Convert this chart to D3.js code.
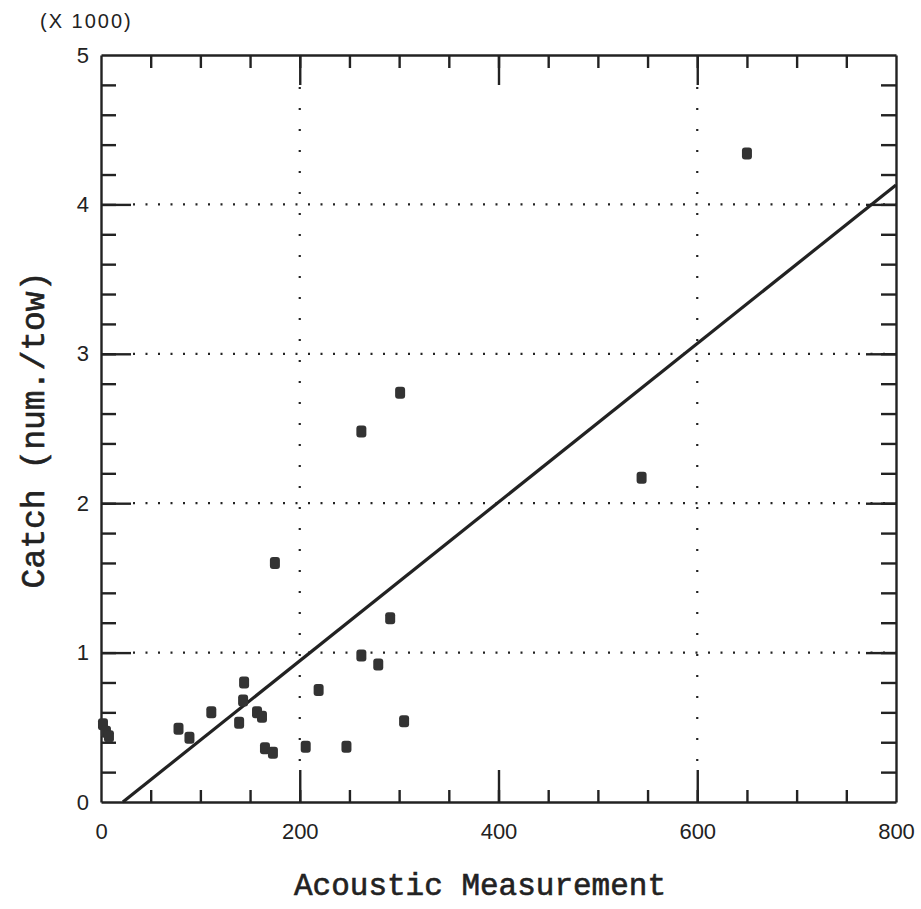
<!DOCTYPE html>
<html>
<head>
<meta charset="utf-8">
<script src="https://cdn.jsdelivr.net/npm/d3@7"></script>
<style>
  body { margin: 0; background: #fff; }
  .tick text { fill: #222; }
</style>
</head>
<body>
<svg id="chart_svg"></svg>
<script>
var viewWidth = 921;
var viewHeight = 909;

// acoustic measurement vs catch (x 1000 per tow)
var acoustic = [650, 544, 301, 262, 175, 291, 262, 279, 144, 219, 143, 111, 157, 162, 139, 78, 89, 305, 165, 173, 206, 247, 2, 5, 8];
var catchK   = [4.34, 2.17, 2.74, 2.48, 1.60, 1.23, 0.98, 0.92, 0.80, 0.75, 0.68, 0.60, 0.60, 0.57, 0.53, 0.49, 0.43, 0.54, 0.36, 0.33, 0.37, 0.37, 0.52, 0.47, 0.44];

// fitted regression line
var fitX = [22, 800];
var fitY = [0, 4.13];

var xTicks = [0, 200, 400, 600, 800];
var yTicks = [0, 1, 2, 3, 4, 5];
var xMinor = d3.range(50, 800, 50);
var xMajor = [200, 400, 600];
var yMinor = d3.range(1, 25).map(function(d) { return d / 5; });
var yMajor = [1, 2, 3, 4];
var xGrid = [200, 600];
var yGrid = [1, 2, 3, 4];

var ink = "#222";

var svg = d3.select("#chart_svg")
    .attr("width", viewWidth)
    .attr("height", viewHeight);

svg.append("rect")
    .attr("width", viewWidth)
    .attr("height", viewHeight)
    .attr("fill", "#fff");

var x = d3.scaleLinear().domain([0, 800]).range([101, 896]);
var y = d3.scaleLinear().domain([0, 5]).range([802, 55]);

// dotted grid
svg.selectAll(".hgrid")
    .data(yGrid)
  .enter().append("line")
    .attr("class", "hgrid")
    .attr("x1", x(0) + 32)
    .attr("x2", x(800))
    .attr("y1", function(d) { return y(d); })
    .attr("y2", function(d) { return y(d); })
    .attr("stroke", ink)
    .attr("stroke-width", 2.2)
    .attr("stroke-dasharray", "2,10.5");

svg.selectAll(".vgrid")
    .data(xGrid)
  .enter().append("line")
    .attr("class", "vgrid")
    .attr("x1", function(d) { return x(d); })
    .attr("x2", function(d) { return x(d); })
    .attr("y1", y(5) + 32)
    .attr("y2", y(0) - 34)
    .attr("stroke", ink)
    .attr("stroke-width", 2.2)
    .attr("stroke-dasharray", "2,19");

function styleAxis(g) {
  g.selectAll("path").attr("stroke", ink).attr("stroke-width", 2.4);
  g.selectAll("line").attr("stroke", ink).attr("stroke-width", 2.4);
}

// ticks pointing inward on all four sides
svg.append("g")
    .attr("transform", "translate(0," + y(0) + ")")
    .call(d3.axisBottom(x).tickValues(xMinor).tickSize(-12).tickSizeOuter(0).tickFormat(""))
    .call(styleAxis);
svg.append("g")
    .attr("transform", "translate(0," + y(0) + ")")
    .call(d3.axisBottom(x).tickValues(xMajor).tickSize(-32).tickFormat(""))
    .call(styleAxis)
    .select(".domain").remove();

svg.append("g")
    .attr("transform", "translate(0," + y(5) + ")")
    .call(d3.axisTop(x).tickValues(xMinor).tickSize(-13).tickSizeOuter(0).tickFormat(""))
    .call(styleAxis);
svg.append("g")
    .attr("transform", "translate(0," + y(5) + ")")
    .call(d3.axisTop(x).tickValues(xMajor).tickSize(-30).tickFormat(""))
    .call(styleAxis)
    .select(".domain").remove();

svg.append("g")
    .attr("transform", "translate(" + x(0) + ",0)")
    .call(d3.axisLeft(y).tickValues(yMinor).tickSize(-15).tickSizeOuter(0).tickFormat(""))
    .call(styleAxis);
svg.append("g")
    .attr("transform", "translate(" + x(0) + ",0)")
    .call(d3.axisLeft(y).tickValues(yMajor).tickSize(-30).tickFormat(""))
    .call(styleAxis)
    .select(".domain").remove();

svg.append("g")
    .attr("transform", "translate(" + x(800) + ",0)")
    .call(d3.axisRight(y).tickValues(yMinor).tickSize(-15).tickSizeOuter(0).tickFormat(""))
    .call(styleAxis);
svg.append("g")
    .attr("transform", "translate(" + x(800) + ",0)")
    .call(d3.axisRight(y).tickValues(yMajor).tickSize(-30).tickFormat(""))
    .call(styleAxis)
    .select(".domain").remove();

// tick labels
var xLab = svg.append("g")
    .attr("transform", "translate(0," + y(0) + ")")
    .call(d3.axisBottom(x).tickValues(xTicks).tickSize(0).tickPadding(21).tickFormat(d3.format("d")));
xLab.select(".domain").remove();
xLab.selectAll("text")
    .style("font-family", "'Liberation Sans Narrow', 'Liberation Sans', sans-serif")
    .style("font-size", "22px");

var yLab = svg.append("g")
    .attr("transform", "translate(" + x(0) + ",0)")
    .call(d3.axisLeft(y).tickValues(yTicks).tickSize(0).tickPadding(12).tickFormat(d3.format("d")));
yLab.select(".domain").remove();
yLab.selectAll("text")
    .style("font-family", "'Liberation Sans Narrow', 'Liberation Sans', sans-serif")
    .style("font-size", "22px");

svg.append("text")
    .attr("x", 40)
    .attr("y", 28)
    .style("font-family", "'Liberation Sans Narrow', 'Liberation Sans', sans-serif")
    .style("font-size", "20px")
    .style("letter-spacing", "2px")
    .attr("fill", ink)
    .text("(X 1000)");

// regression line
var line = d3.line()
    .x(function(d) { return x(d[0]); })
    .y(function(d) { return y(d[1]); });

svg.append("path")
    .datum(d3.zip(fitX, fitY))
    .attr("d", line)
    .attr("fill", "none")
    .attr("stroke", ink)
    .attr("stroke-width", 3.2);

// data points
svg.selectAll(".dot")
    .data(d3.zip(acoustic, catchK))
  .enter().append("rect")
    .attr("class", "dot")
    .attr("x", function(d) { return x(d[0]) - 5; })
    .attr("y", function(d) { return y(d[1]) - 6; })
    .attr("width", 10)
    .attr("height", 12)
    .attr("rx", 3)
    .attr("fill", "#333");

// axis titles
svg.append("text")
    .attr("x", 480)
    .attr("y", 895)
    .attr("text-anchor", "middle")
    .style("font-family", "'Liberation Mono', 'Courier New', monospace")
    .style("font-size", "31px")
    .attr("fill", ink)
    .attr("stroke", ink)
    .attr("stroke-width", 0.6)
    .text("Acoustic Measurement");

svg.append("text")
    .attr("transform", "translate(44,430) rotate(-90)")
    .attr("text-anchor", "middle")
    .style("font-family", "'Liberation Mono', 'Courier New', monospace")
    .style("font-size", "33px")
    .attr("fill", ink)
    .attr("stroke", ink)
    .attr("stroke-width", 0.6)
    .text("Catch (num./tow)");
</script>
</body>
</html>
